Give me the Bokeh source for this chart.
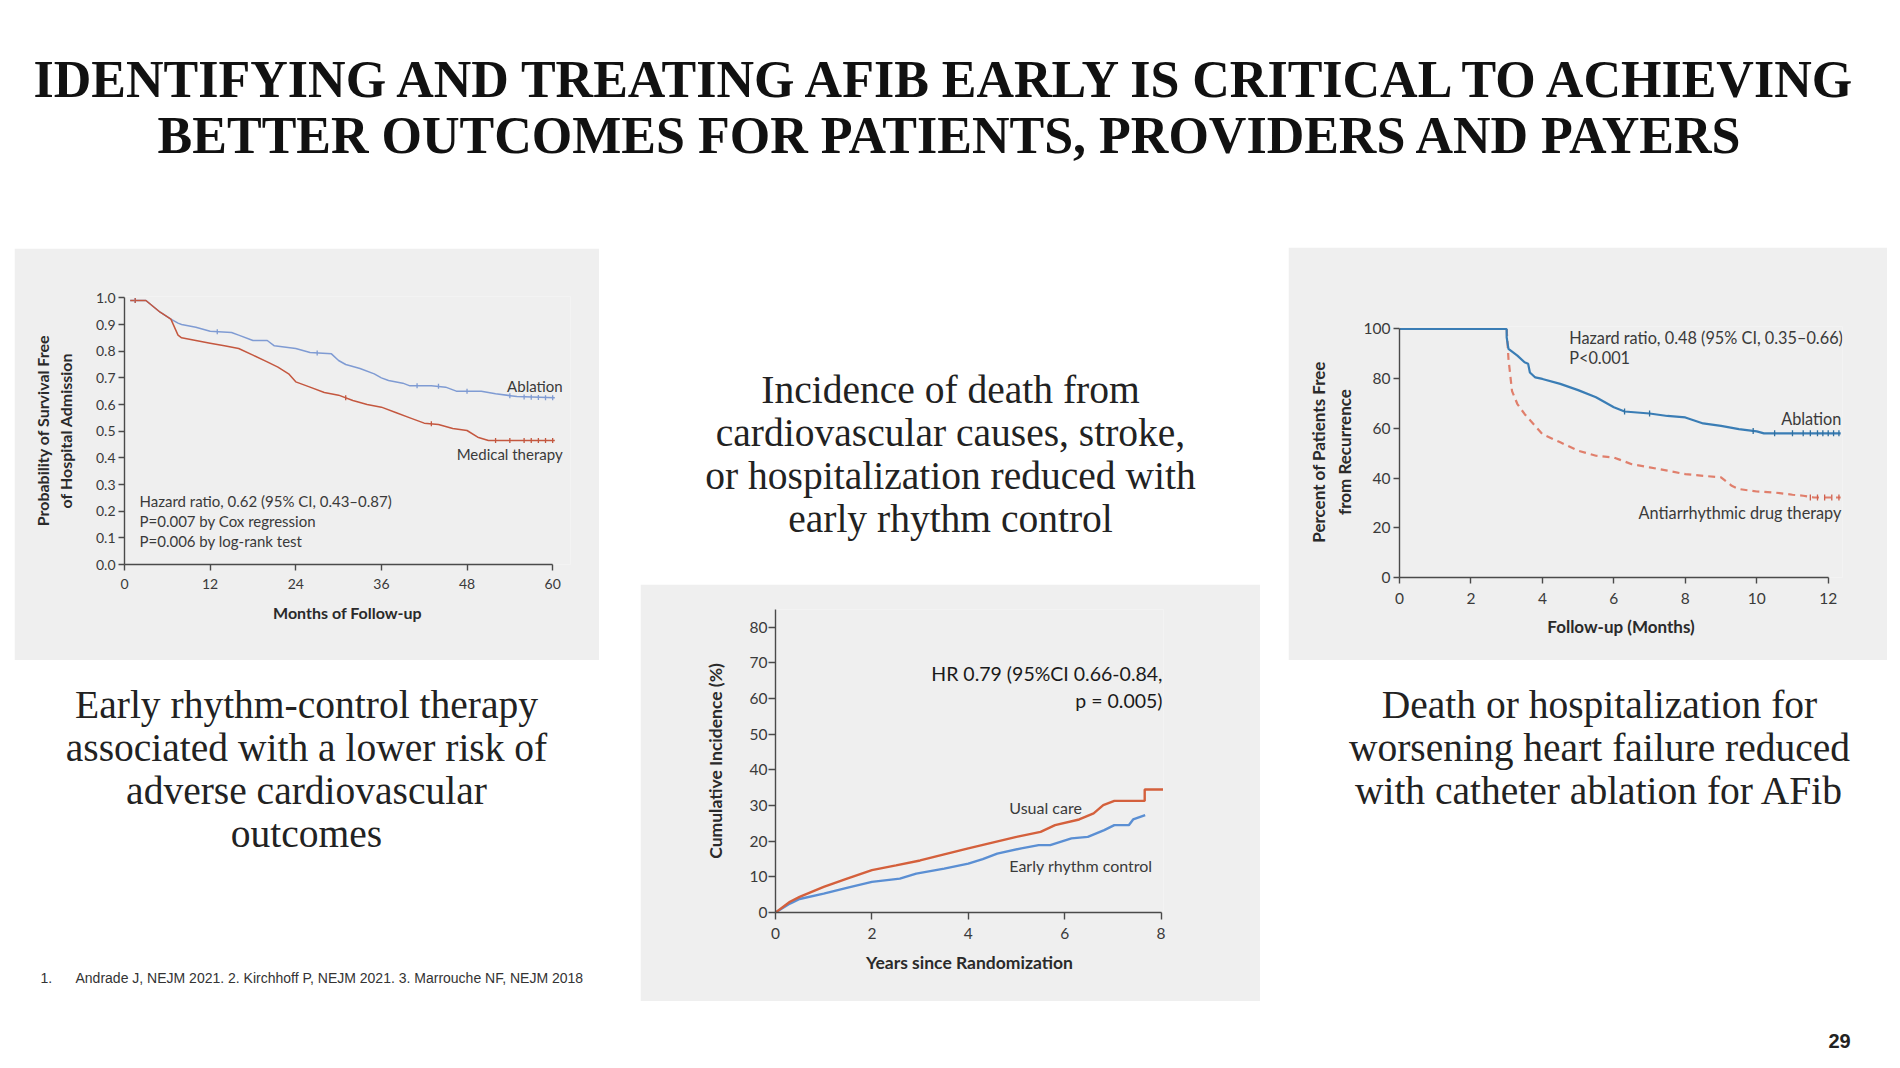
import math
from bokeh.plotting import figure
from bokeh.layouts import row, column
from bokeh.models import Spacer, Range1d, FixedTicker, Label, PrintfTickFormatter
from bokeh.core.properties import value
from bokeh.embed import file_html
from bokeh.resources import INLINE

# ---------------- text content ----------------
TITLE_LINES = ["IDENTIFYING AND TREATING AFIB EARLY IS CRITICAL TO ACHIEVING",
               "BETTER OUTCOMES FOR PATIENTS, PROVIDERS AND PAYERS"]
CAPTION_LEFT = ["Early rhythm-control therapy", "associated with a lower risk of",
                "adverse cardiovascular", "outcomes"]
CAPTION_MID = ["Incidence of death from", "cardiovascular causes, stroke,",
               "or hospitalization reduced with", "early rhythm control"]
CAPTION_RIGHT = ["Death or hospitalization for", "worsening heart failure reduced",
                 "with catheter ablation for AFib"]
FOOT_NUM = "1."
FOOTNOTE = "Andrade J, NEJM 2021. 2. Kirchhoff P, NEJM 2021. 3. Marrouche NF, NEJM 2018"
PAGE_NUM = "29"

# ---------------- panel 1 data (months, probability) ----------------
p1_ticks_x = [0, 12, 24, 36, 48, 60]
p1_ticks_y = [0.0, 0.1, 0.2, 0.3, 0.4, 0.5, 0.6, 0.7, 0.8, 0.9, 1.0]
p1_abl_x = [0.8, 3, 5, 6.5, 7.5, 8, 10, 12, 15, 16, 18, 20, 21, 24, 26, 29, 30, 31, 33, 35,
            36, 37, 39, 40, 43, 45, 46.5, 50, 52, 55, 60.3]
p1_abl_y = [0.99, 0.99, 0.946, 0.92, 0.905, 0.90, 0.89, 0.875, 0.87, 0.86, 0.84, 0.84, 0.82,
            0.81, 0.795, 0.79, 0.765, 0.75, 0.735, 0.715, 0.70, 0.69, 0.68, 0.67, 0.67, 0.665,
            0.65, 0.65, 0.64, 0.63, 0.625]
p1_med_x = [0.8, 3, 5, 6.5, 7.5, 8, 10, 12, 14, 16, 18, 20, 21.5, 23, 24, 26, 28, 30, 32, 34,
            36, 38, 40, 42, 44, 46, 48, 49.5, 51, 55, 60.3]
p1_med_y = [0.99, 0.99, 0.946, 0.92, 0.86, 0.85, 0.84, 0.83, 0.82, 0.81, 0.785, 0.76, 0.74,
            0.715, 0.685, 0.665, 0.645, 0.635, 0.615, 0.60, 0.59, 0.57, 0.55, 0.53, 0.525,
            0.51, 0.5025, 0.4775, 0.465, 0.465, 0.465]
# censoring marks
p1_abl_cens_x = [1.5, 13, 27, 41, 44, 48, 54, 56, 57, 58, 59, 60]
p1_abl_cens_y = [0.99, 0.873, 0.793, 0.67, 0.668, 0.65, 0.633, 0.628, 0.627, 0.626, 0.625, 0.625]
p1_med_cens_x = [1.5, 31, 43, 52, 54, 56, 57, 58, 59, 60]
p1_med_cens_y = [0.99, 0.625, 0.528, 0.465, 0.465, 0.465, 0.465, 0.465, 0.465, 0.465]
p1_labels = ["Ablation", "Medical therapy"]
p1_stats = ["Hazard ratio, 0.62 (95% CI, 0.43\u20130.87)", "P=0.007 by Cox regression",
            "P=0.006 by log-rank test"]

# ---------------- panel 2 data (years, %) ----------------
p2_ticks_x = [0, 2, 4, 6, 8]
p2_ticks_y = [0, 10, 20, 30, 40, 50, 60, 70, 80]
p2_uc_x = [0, 0.3, 0.5, 1.0, 1.5, 2.0, 2.5, 3.0, 3.5, 4.0, 4.5, 5.0, 5.5, 5.8, 6.3, 6.6, 6.8,
           7.03, 7.66, 7.66, 8.04]
p2_uc_y = [0, 3.0, 4.4, 7.2, 9.6, 11.9, 13.2, 14.6, 16.3, 18.0, 19.6, 21.2, 22.6, 24.5, 26.1,
           27.8, 30.1, 31.3, 31.3, 34.5, 34.5]
p2_erc_x = [0, 0.3, 0.5, 1.0, 1.5, 2.0, 2.58, 2.92, 3.5, 4.0, 4.3, 4.6, 5.1, 5.46, 5.7, 6.14,
            6.48, 6.82, 7.03, 7.33, 7.42, 7.67]
p2_erc_y = [0, 2.5, 3.8, 5.3, 7.0, 8.6, 9.5, 10.9, 12.3, 13.7, 15.0, 16.5, 18.0, 18.9, 18.9,
            20.8, 21.2, 23.1, 24.5, 24.5, 26.1, 27.3]
p2_labels = ["Usual care", "Early rhythm control"]
p2_stats = ["HR 0.79 (95%CI 0.66-0.84,", "p = 0.005)"]

# ---------------- panel 3 data (months, %) ----------------
p3_ticks_x = [0, 2, 4, 6, 8, 10, 12]
p3_ticks_y = [0, 20, 40, 60, 80, 100]
p3_abl_x = [0, 3.0, 3.0, 3.05, 3.3, 3.5, 3.6, 3.65, 3.8, 4.0, 4.5, 5.0, 5.5, 6.0, 6.3, 7.0,
            7.5, 8.0, 8.5, 9.0, 9.5, 10.0, 10.2, 12.35]
p3_abl_y = [100, 100, 96.6, 92, 89.3, 86.6, 86, 82.5, 80.5, 79.9, 77.9, 75.4, 72.5, 68.5, 66.8,
            66, 65, 64.4, 62, 61, 59.7, 58.8, 58, 58]
p3_aad_x = [3.0, 3.05, 3.15, 3.3, 3.5, 4.0, 4.5, 5.0, 5.5, 6.0, 6.5, 7.0, 7.5, 8.0, 8.5, 9.0,
            9.3, 9.5, 10.0, 10.5, 11.0, 11.3, 11.6, 12.35]
p3_aad_y = [100, 88, 75, 69.8, 65.8, 57.7, 54.4, 51, 49, 48.3, 45.6, 44.3, 43, 41.6, 40.9,
            40.3, 36.9, 35.6, 34.6, 34.2, 33.3, 32.9, 32.2, 32.2]
p3_abl_cens_x = [6.3, 7.0, 9.9, 10.5, 11.0, 11.3, 11.5, 11.7, 11.85, 12.0, 12.15, 12.3]
p3_abl_cens_y = [66.8, 66, 58.9, 58, 58, 58, 58, 58, 58, 58, 58, 58]
p3_aad_cens_x = [11.5, 11.7, 11.9, 12.1, 12.3]
p3_aad_cens_y = [32.2, 32.2, 32.2, 32.2, 32.2]
p3_labels = ["Ablation", "Antiarrhythmic drug therapy"]
p3_stats = ["Hazard ratio, 0.48 (95% CI, 0.35\u20130.66)", "P<0.001"]

BG = "#efefef"
SANS = "Lato"
SERIF = "Liberation Serif"


def canvas(w, h):
    p = figure(width=w, height=h, x_range=Range1d(0, w), y_range=Range1d(h, 0),
               toolbar_location=None, output_backend="svg", min_border=0,
               x_axis_location=None, y_axis_location=None)
    p.outline_line_color = None
    p.grid.visible = False
    p.background_fill_color = "white"
    p.border_fill_color = "white"
    return p


def chart(fw, fh, xr, yr, left, right, top, bottom):
    p = figure(frame_width=fw, frame_height=fh, x_range=Range1d(*xr), y_range=Range1d(*yr),
               min_border_left=left, min_border_right=right, min_border_top=top,
               min_border_bottom=bottom, toolbar_location=None, output_backend="svg")
    p.grid.visible = False
    p.outline_line_color = None
    p.background_fill_color = BG
    p.border_fill_color = BG
    return p


def style_axes(p, tick_size, label_size, tick_out, xstand, ystand, xlstand=3, ylstand=3):
    for ax in p.axis:
        ax.axis_line_color = "#4a4a4a"
        ax.axis_line_width = 1.4
        ax.major_tick_line_color = "#4a4a4a"
        ax.major_tick_line_width = 1.4
        ax.minor_tick_line_color = None
        ax.major_tick_in = 0
        ax.major_tick_out = tick_out
        ax.major_label_text_font = SANS
        ax.major_label_text_font_size = f"{tick_size}px"
        ax.major_label_text_color = "#3a3a3a"
        ax.axis_label_text_font = SANS
        ax.axis_label_text_font_style = "bold"
        ax.axis_label_text_font_size = f"{label_size}px"
        ax.axis_label_text_color = "#2a2a2a"
    p.xaxis.major_label_standoff = int(xlstand)
    p.yaxis.major_label_standoff = int(ylstand)
    p.xaxis.axis_label_standoff = int(xstand)
    p.yaxis.axis_label_standoff = int(ystand)


def lab(p, x, y, text, size, align="left", color="#3a3a3a", bold=False):
    p.add_layout(Label(x=x, y=y, text=text, text_font=SANS, text_font_size=f"{size}px",
                       text_align=align, text_baseline="middle", text_color=color,
                       text_font_style="bold" if bold else "normal"))


def censor(p, xs, ys, color, size=5):
    p.scatter(xs, ys, marker="dash", angle=math.pi / 2, size=size, line_color=color,
              line_width=1.3)


# ---------------- title ----------------
title = canvas(1884, 232)
title.text(x=[942, 942], y=[71, 127], text=TITLE_LINES, text_font=value(SERIF),
           text_font_style="bold", text_font_size="52px", text_align="center",
           text_baseline="alphabetic", text_color="#111111")

# ---------------- panel 1 ----------------
C1_ABL, C1_MED = "#7f9bd3", "#c4573f"
p1 = chart(446, 268, (0, 62.5), (0, 1.005), 110, 29, 48, 96)
p1.line(p1_abl_x, p1_abl_y, line_color=C1_ABL, line_width=1.5)
p1.line(p1_med_x, p1_med_y, line_color=C1_MED, line_width=1.5)
censor(p1, p1_abl_cens_x, p1_abl_cens_y, C1_ABL)
censor(p1, p1_med_cens_x, p1_med_cens_y, C1_MED)
style_axes(p1, 14, 16, 6, 11, 18, xlstand=8)
p1.xaxis.bounds = (0, 60)
p1.yaxis.bounds = (0, 1)
p1.xaxis.ticker = FixedTicker(ticks=p1_ticks_x)
p1.yaxis.ticker = FixedTicker(ticks=p1_ticks_y)
p1.yaxis.formatter = PrintfTickFormatter(format="%.1f")
p1.xaxis.axis_label = "Months of Follow-up"
p1.yaxis.axis_label = "Probability of Survival Free\nof Hospital Admission"
lab(p1, 61.4, 0.671, p1_labels[0], 15, align="right")
lab(p1, 61.4, 0.416, p1_labels[1], 15, align="right")
for t, yy in zip(p1_stats, [0.24, 0.165, 0.09]):
    lab(p1, 2.1, yy, t, 15)

# ---------------- panel 2 ----------------
p2 = chart(388, 303, (0, 8.05), (0, 85), 135, 97, 25, 89)
p2.line(p2_erc_x, p2_erc_y, line_color="#5b8fd3", line_width=2.4)
p2.line(p2_uc_x, p2_uc_y, line_color="#d4603c", line_width=2.4)
style_axes(p2, 15.5, 17.5, 7, 10, 21, xlstand=8, ylstand=1)
p2.xaxis.bounds = (0, 8)
p2.xaxis.ticker = FixedTicker(ticks=p2_ticks_x)
p2.yaxis.ticker = FixedTicker(ticks=p2_ticks_y)
p2.xaxis.axis_label = "Years since Randomization"
p2.yaxis.axis_label = "Cumulative Incidence (%)"
lab(p2, 8.03, 67.1, p2_stats[0], 19.5, align="right", color="#1a1a1a")
lab(p2, 8.03, 59.5, p2_stats[1], 19.5, align="right", color="#1a1a1a")
lab(p2, 4.85, 29.5, p2_labels[0], 16)
lab(p2, 4.85, 13.2, p2_labels[1], 16)

# ---------------- panel 3 ----------------
C3_ABL, C3_AAD = "#3a7db5", "#e07f6c"
p3 = chart(443, 251, (0, 12.4), (0, 101), 111, 45, 79, 83)
p3.line(p3_aad_x, p3_aad_y, line_color=C3_AAD, line_width=2.2, line_dash="7 5")
p3.line(p3_abl_x, p3_abl_y, line_color=C3_ABL, line_width=2.2)
censor(p3, p3_abl_cens_x, p3_abl_cens_y, "#2f6f9f", size=6)
censor(p3, p3_aad_cens_x, p3_aad_cens_y, "#d0604e", size=6)
style_axes(p3, 15.5, 17, 6, 9, 6, xlstand=9)
p3.xaxis.bounds = (0, 12)
p3.yaxis.bounds = (0, 100)
p3.xaxis.ticker = FixedTicker(ticks=p3_ticks_x)
p3.yaxis.ticker = FixedTicker(ticks=p3_ticks_y)
p3.xaxis.axis_label = "Follow-up (Months)"
p3.yaxis.axis_label = "Percent of Patients Free\nfrom Recurrence"
lab(p3, 4.75, 96.4, p3_stats[0], 16.3)
lab(p3, 4.75, 88.4, p3_stats[1], 16.3)
lab(p3, 12.37, 63.9, p3_labels[0], 16.3, align="right")
lab(p3, 12.37, 26.1, p3_labels[1], 16.3, align="right")

# ---------------- captions ----------------
textA = canvas(612, 400)
textA.text(x=[298] * 4, y=[44, 87, 130, 173], text=CAPTION_LEFT, text_font=value(SERIF),
           text_font_size="39.5px", text_align="center", text_baseline="alphabetic",
           text_color="#222222")
textA.text(x=[32], y=[317], text=[FOOT_NUM], text_font=value("Liberation Sans"),
           text_font_size="14px", text_align="left", text_baseline="middle", text_color="#333333")
textA.text(x=[67], y=[317], text=[FOOTNOTE], text_font=value("Liberation Sans"),
           text_font_size="14px", text_align="left", text_baseline="middle", text_color="#333333")

textB = canvas(660, 344)
textB.text(x=[330] * 4, y=[149.5, 192.5, 235.5, 278.5], text=CAPTION_MID,
           text_font=value(SERIF), text_font_size="39.5px", text_align="center",
           text_baseline="alphabetic", text_color="#222222")

textC = canvas(612, 400)
textC.text(x=[319] * 3, y=[44, 87, 130], text=CAPTION_RIGHT, text_font=value(SERIF),
           text_font_size="39.5px", text_align="center", text_baseline="alphabetic",
           text_color="#222222")
textC.text(x=[559], y=[380], text=[PAGE_NUM], text_font=value("Liberation Sans"),
           text_font_style="bold", text_font_size="20px", text_align="center",
           text_baseline="middle", text_color="#222222")

colA = column(Spacer(width=612, height=8),
              row(Spacer(width=6, height=412), p1, Spacer(width=21, height=412)),
              textA)
colB = column(textB,
              row(Spacer(width=20, height=417), p2, Spacer(width=20, height=417)),
              Spacer(width=660, height=59))
colC = column(Spacer(width=612, height=7),
              row(Spacer(width=8, height=413), p3, Spacer(width=5, height=413)),
              textC)

slide = column(title, row(colA, colB, colC))
page = column(Spacer(width=1892, height=8), row(Spacer(width=8, height=1052), slide))

open("out.html", "w").write(file_html(page, INLINE))
